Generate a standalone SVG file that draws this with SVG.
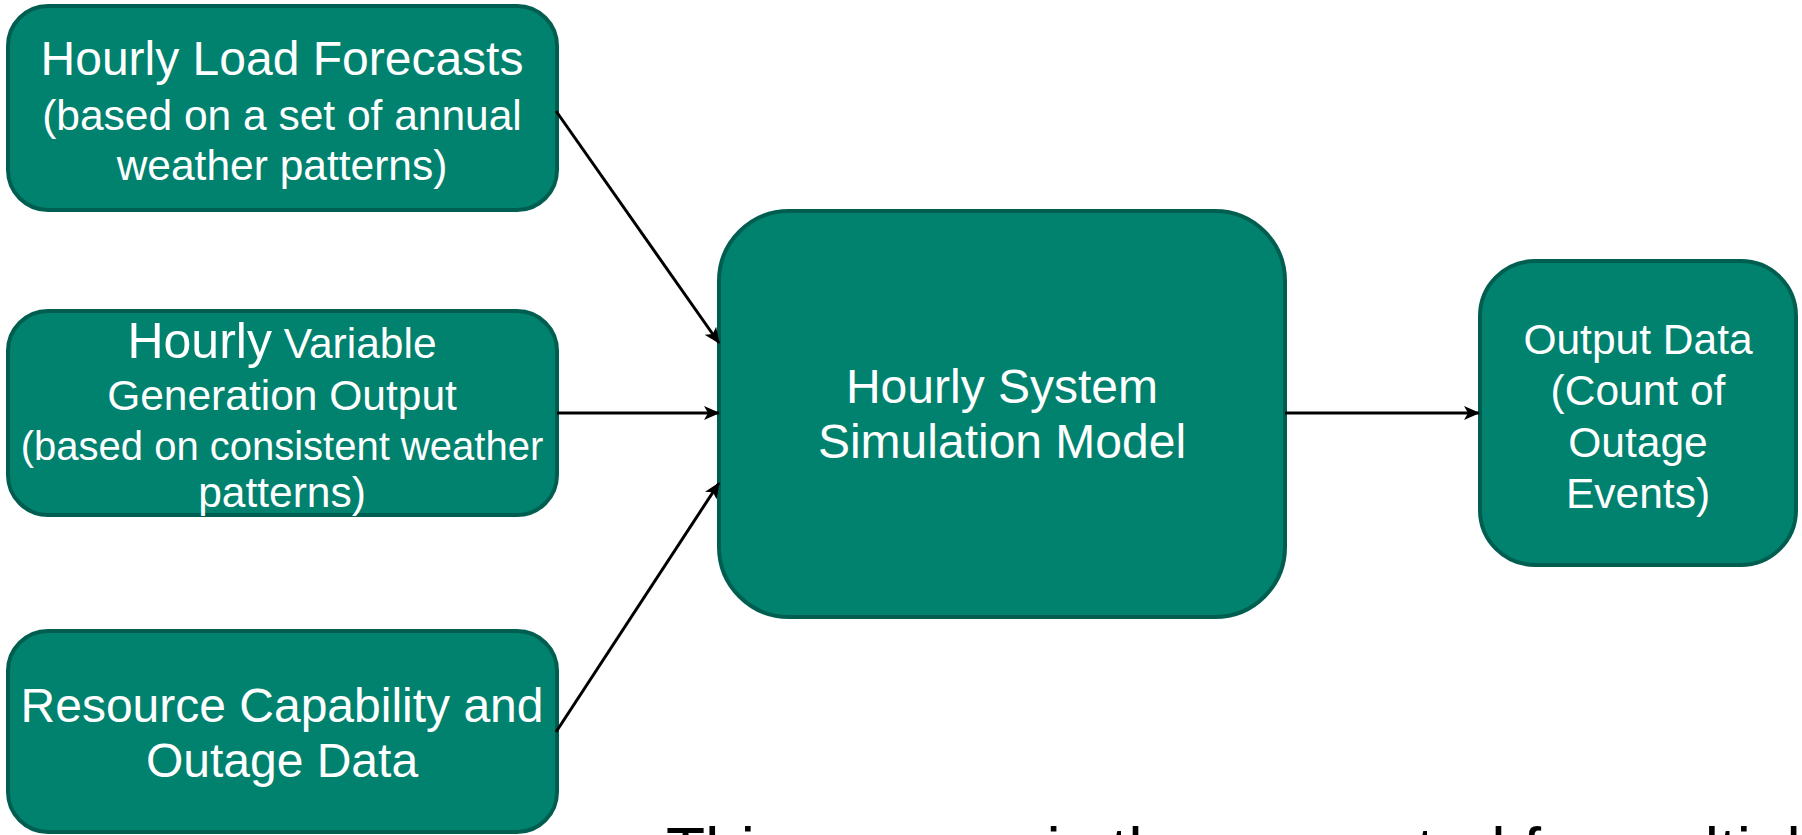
<svg xmlns="http://www.w3.org/2000/svg" width="1802" height="835" viewBox="0 0 1802 835">
  <defs>
    <style>
      .node rect { fill: #00826F; stroke: #005E51; stroke-width: 4; }
      .node text { fill: #FFFFFF; font-family: "Liberation Sans", Arial, sans-serif; text-anchor: middle; }
      .big { font-size: 48px; }
      .small { font-size: 42.5px; }
      .conn line { stroke: #000000; stroke-width: 3; fill: none; marker-end: url(#arrow); }
      .note { fill: #000000; font-family: "Liberation Sans", Arial, sans-serif; font-size: 64px; }
    </style>
    <marker id="arrow" markerUnits="userSpaceOnUse" markerWidth="16" markerHeight="14" refX="15" refY="7" orient="auto">
      <path d="M0,0 L16,7 L0,14 L4,7 Z" fill="#000000"/>
    </marker>
  </defs>

  <rect width="1802" height="835" fill="#FFFFFF"/>

  <!-- inputs -->
  <g id="load-forecasts" class="node">
    <rect x="8" y="6" width="549" height="204" rx="40" ry="40"/>
    <text x="282" y="75" class="big">Hourly Load Forecasts</text>
    <text x="282" y="130" class="small">(based on a set of annual</text>
    <text x="282" y="180" class="small">weather patterns)</text>
  </g>

  <g id="variable-generation" class="node">
    <rect x="8" y="311" width="549" height="204" rx="40" ry="40"/>
    <text x="282" y="358"><tspan style="font-size:50px">Hourly</tspan><tspan class="small"> Variable</tspan></text>
    <text x="282" y="410" class="small">Generation Output</text>
    <text x="282" y="460" style="font-size:40px">(based on consistent weather</text>
    <text x="282" y="507" class="small">patterns)</text>
  </g>

  <g id="resource-data" class="node">
    <rect x="8" y="631" width="549" height="201" rx="40" ry="40"/>
    <text x="282" y="722" class="big">Resource Capability and</text>
    <text x="282" y="777" class="big">Outage Data</text>
  </g>

  <!-- model -->
  <g id="simulation-model" class="node">
    <rect x="719" y="211" width="566" height="406" rx="70" ry="70"/>
    <text x="1002" y="403" class="big">Hourly System</text>
    <text x="1002" y="458" class="big">Simulation Model</text>
  </g>

  <!-- result -->
  <g id="output-data" class="node">
    <rect x="1480" y="261" width="316" height="304" rx="55" ry="55"/>
    <text x="1638" y="354" class="small">Output Data</text>
    <text x="1638" y="405" class="small">(Count of</text>
    <text x="1638" y="457" class="small">Outage</text>
    <text x="1638" y="508" class="small">Events)</text>
  </g>

  <g id="connectors" class="conn">
    <line x1="556" y1="111" x2="719" y2="343"/>
    <line x1="557" y1="413" x2="719" y2="413"/>
    <line x1="556" y1="732" x2="719" y2="483"/>
    <line x1="1285" y1="413" x2="1479" y2="413"/>
  </g>

  <text x="666" y="873" class="note">This process is then repeated for multiple</text>
</svg>
